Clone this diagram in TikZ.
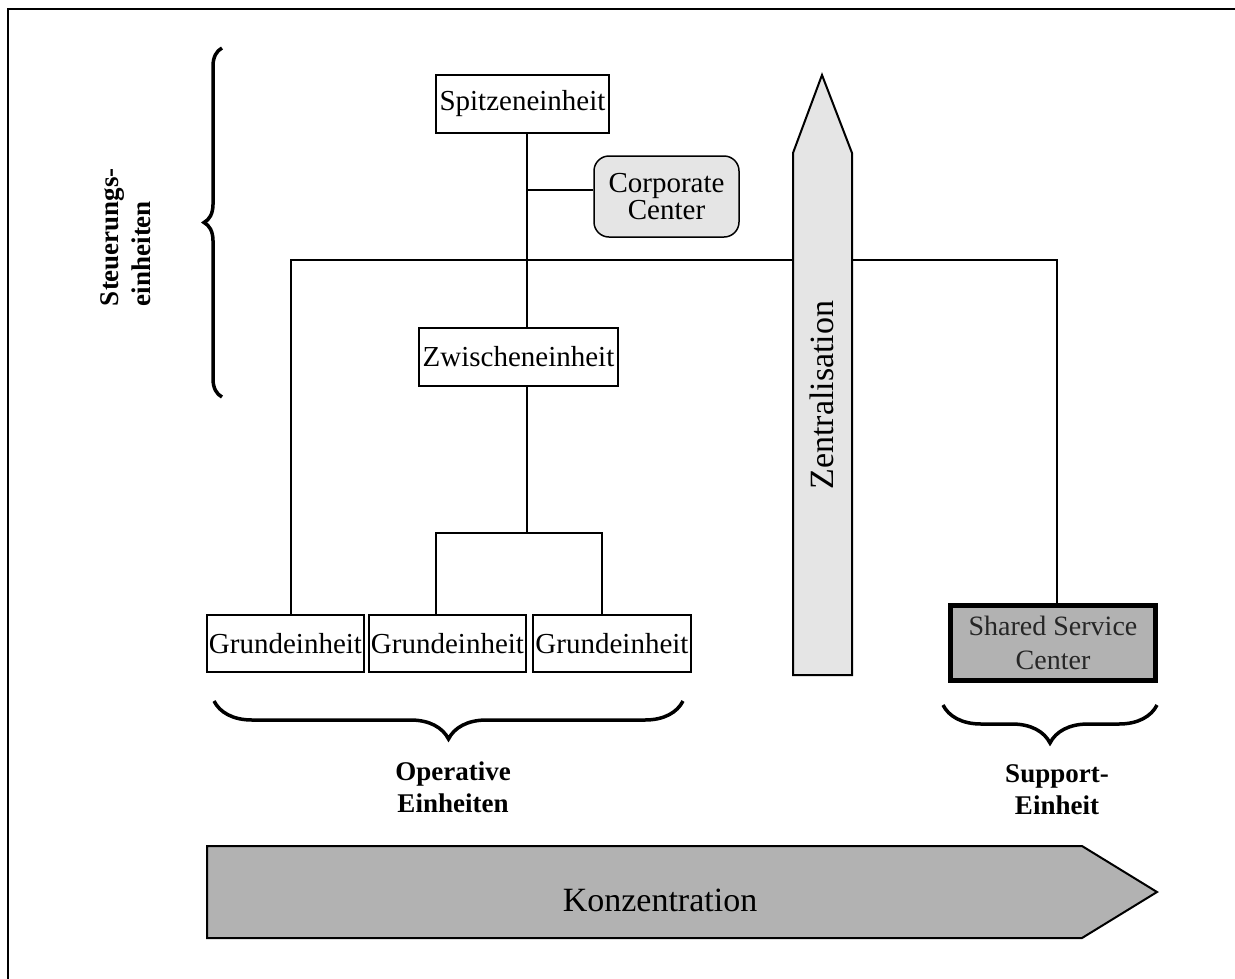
\documentclass[tikz,border=0pt]{standalone}
\usepackage{fontspec}
\setmainfont{Liberation Serif}
\usetikzlibrary{decorations.pathreplacing}

\begin{document}
\begin{tikzpicture}[x=1pt,y=-1pt,
  unitbox/.style={draw, line width=1.5pt, fill=white, inner sep=0pt,
    font=\fontsize{29}{32}\selectfont},
  wire/.style={line width=2pt},
  bracket/.style={decorate, decoration={brace, amplitude=#1}, line width=3.5pt},
  boldlabel/.style={align=center, inner sep=0pt,
    font=\fontsize{27}{32}\selectfont\bfseries},
  bigword/.style={inner sep=0pt, font=\fontsize{34}{38}\selectfont}
]
\useasboundingbox (0,0) rectangle (1235,978);

% outer frame (only the top and left edges lie inside the page)
\draw[line width=2.5pt] (8,1000) -- (8,9) -- (1260,9);

% organisation units
\node[unitbox, minimum width=173pt, minimum height=58pt] (spitze) at (522.5,104) {Spitzeneinheit};
\node[unitbox, minimum width=145pt, minimum height=81pt, rounded corners=15pt,
      fill=black!10, align=center, font=\fontsize{29}{27}\selectfont] (corp) at (666.5,196.5) {Corporate\\Center};
\node[unitbox, minimum width=199pt, minimum height=58pt] (zwischen) at (518.5,357) {Zwischeneinheit};
\node[unitbox, minimum width=157pt, minimum height=57pt] (g1) at (285.5,643.5) {Grundeinheit};
\node[unitbox, minimum width=157pt, minimum height=57pt] (g2) at (447.5,643.5) {Grundeinheit};
\node[unitbox, minimum width=158pt, minimum height=57pt] (g3) at (612,643.5) {Grundeinheit};
\node[unitbox, line width=5pt, minimum width=205pt, minimum height=75pt, fill=black!30,
      text=black!85, align=center, font=\fontsize{28}{34}\selectfont] (ssc) at (1053,643) {Shared Service\\Center};

% routing points of the connectors
\coordinate (trunk) at (527,0);
\coordinate (barL) at (291,260);
\coordinate (barR) at (1057,260);
\coordinate (fork) at (527,533);
\coordinate (forkL) at (436,533);
\coordinate (forkR) at (602,533);

% connectors
\draw[wire] (spitze.south -| trunk) -- (zwischen.north -| trunk);
\draw[wire] ([yshift=6.5pt]corp.west) -- ([yshift=6.5pt]corp.west -| trunk);
\draw[wire] (g1.north -| barL) -- (barL) -- (barR) -- (ssc.north -| barR);
\draw[wire] (zwischen.south -| fork) -- (fork);
\draw[wire] (g2.north -| forkL) -- (forkL) -- (forkR) -- (g3.north -| forkR);

% vertical arrow: centralisation
\draw[line width=2pt, fill=black!10] (793,675) -- (793,153) -- (822,75) -- (852,153) -- (852,675) -- cycle;
\node[bigword, rotate=90] (zentral) at (822,395) {Zentralisation};

% horizontal arrow: concentration
\draw[line width=2pt, fill=black!30] (207,846) -- (1082,846) -- (1157,892) -- (1082,938) -- (207,938) -- cycle;
\node[bigword] (konz) at (660,900) {Konzentration};

% braces and group labels
\draw[bracket=18pt] (222,397) -- (222,48);
\node[boldlabel, rotate=90, align=left] (steuer) at (126,237) {Steuerungs-\\einheiten};

\draw[bracket=38pt] (683,701) -- (214,701);
\node[boldlabel] (oper) at (453,787) {Operative\\Einheiten};

\draw[bracket=38pt] (1157,705) -- (943,705);
\node[boldlabel] (supp) at (1057,790) {Support-\\Einheit};
\end{tikzpicture}
\end{document}
